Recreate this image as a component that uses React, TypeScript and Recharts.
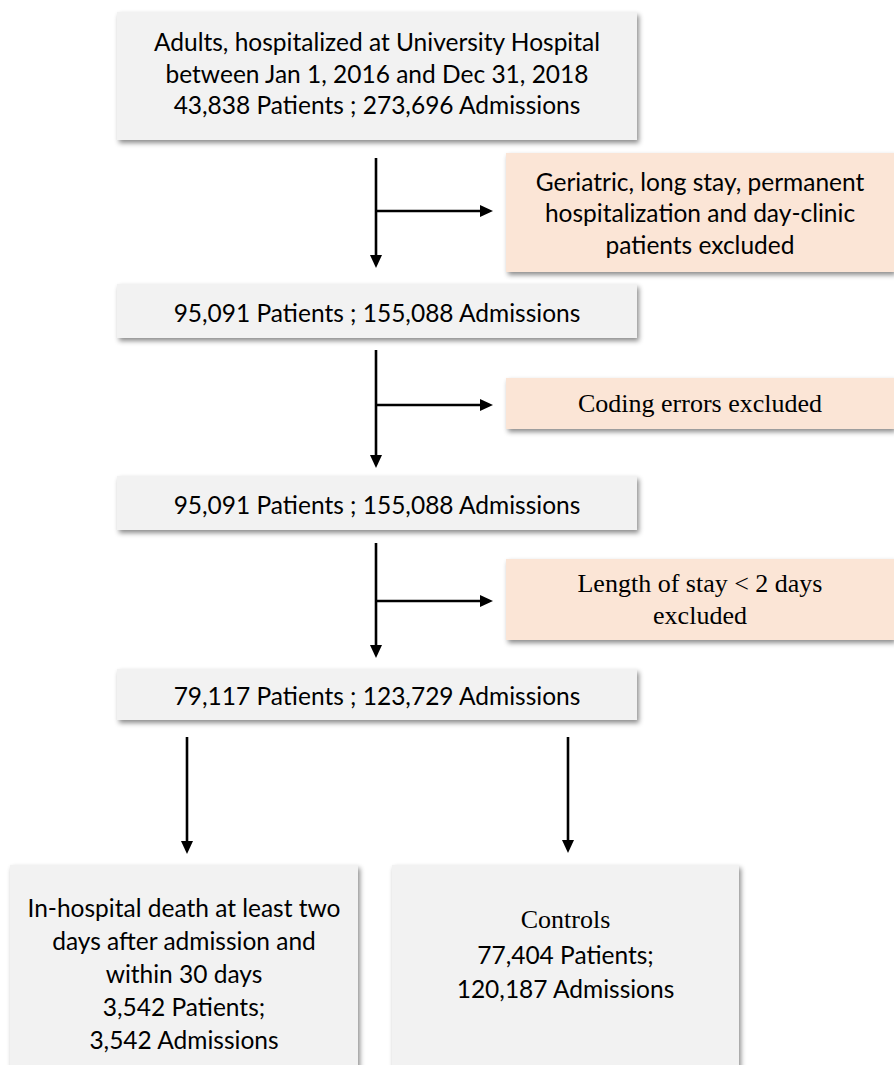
import React from 'react';
import { ComposedChart, XAxis, YAxis, ReferenceArea, ReferenceLine, Label } from 'recharts';

const W = 894;
const H = 1065;

// Flow boxes in diagram units (1 unit = 1 px of the canvas)
const mainBoxes = [
  { id: 'source', x1: 117, x2: 637, y1: 12, y2: 140, shift: -3, lines: ['Adults, hospitalized at University Hospital', 'between Jan 1, 2016 and Dec 31, 2018', '43,838 Patients ; 273,696 Admissions'] },
  { id: 'step1', x1: 117, x2: 637, y1: 284, y2: 338, shift: 1, lines: ['95,091 Patients ; 155,088 Admissions'] },
  { id: 'step2', x1: 117, x2: 637, y1: 476, y2: 530, shift: 1, lines: ['95,091 Patients ; 155,088 Admissions'] },
  { id: 'step3', x1: 117, x2: 637, y1: 669, y2: 720, shift: 1, lines: ['79,117 Patients ; 123,729 Admissions'] },
];

const exclusionBoxes = [
  { id: 'excl1', x1: 506, x2: 894, y1: 153, y2: 272, serif: false, lines: ['Geriatric, long stay, permanent', 'hospitalization and day-clinic', 'patients excluded'] },
  { id: 'excl2', x1: 506, x2: 894, y1: 378, y2: 429, serif: true, lines: ['Coding errors excluded'] },
  { id: 'excl3', x1: 506, x2: 894, y1: 559, y2: 640, serif: true, lines: ['Length of stay < 2 days', 'excluded'] },
];

const outcomeBoxes = [
  { id: 'cases', x1: 10, x2: 358, y1: 865, y2: 1065, shift: -2, lineH: 33, lines: ['In-hospital death at least two', 'days after admission and', 'within 30 days', '3,542 Patients;', '3,542 Admissions'], serifLines: [] as number[] },
  { id: 'controls', x1: 392, x2: 739, y1: 865, y2: 1065, shift: -21, lineH: 34.5, lines: ['Controls', '77,404 Patients;', '120,187 Admissions'], serifLines: [0] },
];

const arrows = [
  { x1: 376, y1: 158, x2: 376, y2: 268 },
  { x1: 376, y1: 211, x2: 493, y2: 211 },
  { x1: 376, y1: 350, x2: 376, y2: 468 },
  { x1: 376, y1: 405, x2: 493, y2: 405 },
  { x1: 376, y1: 543, x2: 376, y2: 658 },
  { x1: 376, y1: 601, x2: 493, y2: 601 },
  { x1: 187, y1: 737, x2: 187, y2: 854 },
  { x1: 568, y1: 737, x2: 568, y2: 853 },
];

const SANS = 'Lato, "Open Sans", sans-serif';
const SERIF = '"Liberation Serif", "Times New Roman", serif';
const SANS_SIZE = 24.5;
const SERIF_SIZE = 26;
const GREY = '#f2f2f2';
const PEACH = '#fbe5d6';
const SHADOW = 'drop-shadow(2px 3px 2.5px rgba(0,0,0,0.45))';

const BoxShape = (props: any) => {
  const { x, y, width, height, fill } = props;
  return <rect x={x} y={y} width={width} height={height} fill={fill} stroke="none" style={{ filter: SHADOW }} />;
};

const makeLabel = (lines: string[], serifIdx: number[], allSerif: boolean, lineH: number, shift: number) => (p: any) => {
  const vb = p.viewBox || {};
  const cx = vb.x + vb.width / 2;
  const cy = vb.y + vb.height / 2 + shift;
  const n = lines.length;
  return (
    <g>
      {lines.map((t, i) => {
        const serif = allSerif || serifIdx.includes(i);
        return (
          <text
            key={i}
            x={cx}
            y={cy + (i - (n - 1) / 2) * lineH}
            textAnchor="middle"
            dominantBaseline="central"
            fontFamily={serif ? SERIF : SANS}
            fontSize={serif ? SERIF_SIZE : SANS_SIZE}
            fill="#000"
          >
            {t}
          </text>
        );
      })}
    </g>
  );
};

const ArrowShape = (props: any) => {
  const { x1, y1, x2, y2 } = props;
  const dx = x2 - x1;
  const dy = y2 - y1;
  const len = Math.sqrt(dx * dx + dy * dy) || 1;
  const ux = dx / len;
  const uy = dy / len;
  const headL = 13;
  const headW = 6;
  const bx = x2 - ux * headL;
  const by = y2 - uy * headL;
  const px = -uy;
  const py = ux;
  const pts = `${x2},${y2} ${bx + px * headW},${by + py * headW} ${bx - px * headW},${by - py * headW}`;
  return (
    <g>
      <line x1={x1} y1={y1} x2={bx + ux} y2={by + uy} stroke="#000" strokeWidth={2.6} />
      <polygon points={pts} fill="#000" />
    </g>
  );
};

export default function App() {
  return (
    <div style={{ position: 'absolute', left: 0, top: 0, width: W, height: H, background: '#fff' }}>
      <ComposedChart width={W} height={H} data={[]} margin={{ top: 0, right: 0, bottom: 0, left: 0 }}>
        <XAxis type="number" dataKey="x" domain={[0, W]} allowDataOverflow hide />
        <YAxis type="number" dataKey="y" domain={[0, H]} allowDataOverflow reversed hide />
        {mainBoxes.map((b) => (
          <ReferenceArea key={b.id} x1={b.x1} x2={b.x2} y1={b.y1} y2={b.y2} fill={GREY} fillOpacity={1} ifOverflow="visible" shape={BoxShape}>
            <Label content={makeLabel(b.lines, [], false, 31.5, b.shift)} />
          </ReferenceArea>
        ))}
        {exclusionBoxes.map((b) => (
          <ReferenceArea key={b.id} x1={b.x1} x2={b.x2} y1={b.y1} y2={b.y2} fill={PEACH} fillOpacity={1} ifOverflow="visible" shape={BoxShape}>
            <Label content={makeLabel(b.lines, [], b.serif, 31.5, 0)} />
          </ReferenceArea>
        ))}
        {outcomeBoxes.map((b) => (
          <ReferenceArea key={b.id} x1={b.x1} x2={b.x2} y1={b.y1} y2={b.y2 + 20} fill={GREY} fillOpacity={1} ifOverflow="visible" shape={BoxShape}>
            <Label content={makeLabel(b.lines, b.serifLines, false, b.lineH, b.shift)} />
          </ReferenceArea>
        ))}
        {arrows.map((a, i) => (
          <ReferenceLine
            key={i}
            segment={[{ x: a.x1, y: a.y1 }, { x: a.x2, y: a.y2 }]}
            ifOverflow="visible"
            stroke="#000"
            shape={ArrowShape}
          />
        ))}
      </ComposedChart>
    </div>
  );
}
